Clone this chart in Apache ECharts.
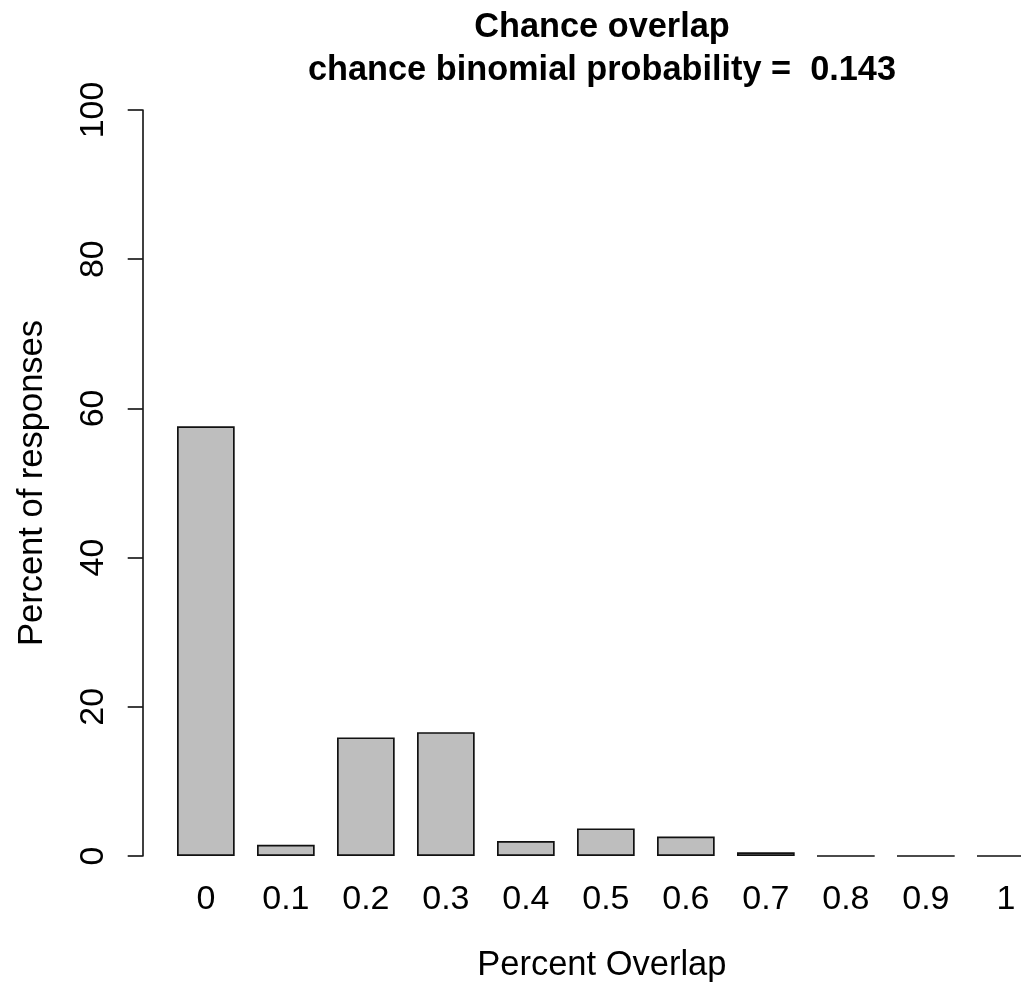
<!DOCTYPE html>
<html>
<head>
<meta charset="utf-8">
<style>
html,body{margin:0;padding:0;background:#fff;overflow:hidden;}
#chart{width:1046px;height:988px;}
</style>
<script src="https://cdn.jsdelivr.net/npm/echarts@6/dist/echarts.min.js"></script>
</head>
<body>
<div id="chart"></div>
<script>
var categories = ['0', '0.1', '0.2', '0.3', '0.4', '0.5', '0.6', '0.7', '0.8', '0.9', '1'];
var percentValues = [57.6, 1.5, 15.9, 16.6, 2.0, 3.7, 2.6, 0.5, 0, 0, 0];
var yTicks = [0, 20, 40, 60, 80, 100];
var titleLine1 = 'Chance overlap';
var titleLine2 = 'chance binomial probability =  0.143';

var FONT = "'Liberation Sans', Arial, Helvetica, sans-serif";
var chart = echarts.init(document.getElementById('chart'), null, {renderer: 'canvas'});
chart.setOption({
  backgroundColor: '#ffffff',
  animation: false,
  graphic: [
    {type: 'text', x: 602, y: 28, style: {text: titleLine1, textAlign: 'center', textVerticalAlign: 'middle', font: 'bold 34.3px ' + FONT, fill: '#000'}},
    {type: 'text', x: 602, y: 71, style: {text: titleLine2, textAlign: 'center', textVerticalAlign: 'middle', font: 'bold 34.3px ' + FONT, fill: '#000'}}
  ],
  grid: {left: 165.85, right: 0.15, top: 110, bottom: 130.7, containLabel: false},
  xAxis: {
    type: 'category',
    data: categories,
    boundaryGap: true,
    axisLine: {show: false},
    axisTick: {show: false},
    axisLabel: {margin: 27, fontSize: 34, color: '#000', fontFamily: FONT, interval: 0},
    name: 'Percent Overlap',
    nameLocation: 'middle',
    nameGap: 92,
    nameTextStyle: {fontSize: 34.5, color: '#000', fontFamily: FONT, padding: [0, 8, 0, 0]}
  },
  yAxis: {
    type: 'value',
    min: yTicks[0],
    max: yTicks[yTicks.length - 1],
    interval: yTicks[1] - yTicks[0],
    offset: 23.15,
    axisLine: {show: true, lineStyle: {color: '#000', width: 1.5}},
    axisTick: {show: true, length: 15, inside: false, lineStyle: {color: '#000', width: 1.5}},
    splitLine: {show: false},
    axisLabel: {rotate: 90, margin: 32, fontSize: 34, color: '#000', fontFamily: FONT},
    name: 'Percent of responses',
    nameLocation: 'middle',
    nameGap: 93,
    nameTextStyle: {fontSize: 34.5, color: '#000', fontFamily: FONT}
  },
  series: [{
    type: 'bar',
    data: percentValues,
    barWidth: 57.7,
    clip: false,
    itemStyle: {color: '#bebebe', borderColor: '#111', borderWidth: 1.7}
  }]
});
</script>
</body>
</html>
